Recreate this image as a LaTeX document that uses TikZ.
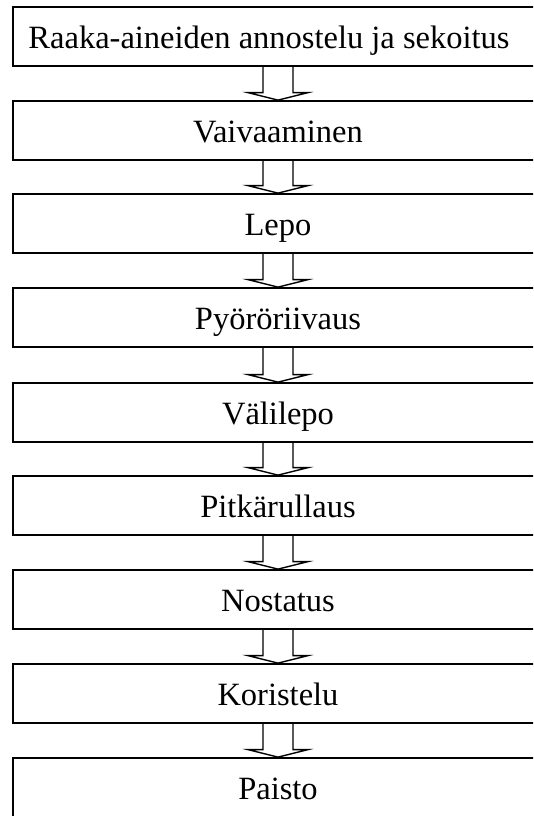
\documentclass[tikz,border=0pt]{standalone}
\usepackage{fontspec}
\setmainfont{Liberation Serif}
\usetikzlibrary{calc}
\begin{document}
\begin{tikzpicture}[x=1pt,y=-1pt,
  stepbox/.style={draw=black, line width=1.8pt, minimum width=560pt, minimum height=59pt,
    inner sep=0pt, text height=24pt, text depth=0pt,
    font=\fontsize{32.5}{39}\selectfont},
  flowarr/.style={draw=black, line width=1.4pt, line join=miter}]
\useasboundingbox (0,0) rectangle (533,816);
\begin{scope}
\clip (0,0) rectangle (533,816);
\def\flowarrow#1#2{%
  \draw[flowarr] ($(#1.south)+(-30,0)$) -- ($(#2.north)+(-30,-7.5)$) -- ($(#2.north)+(-45,-7.5)$)
     -- ($(#2.north)+(-15,0)$) -- ($(#2.north)+(15,-7.5)$) -- ($(#2.north)+(0,-7.5)$) -- ($(#1.south)+(0,0)$);}
\node[stepbox] (s1) at (293,36.5) {\hspace*{-30pt}Raaka-aineiden annostelu ja sekoitus\hspace*{18pt}};
\node[stepbox] (s2) at (293,130.5) {\hspace*{-30pt}Vaivaaminen};
\node[stepbox] (s3) at (293,223.5) {\hspace*{-30pt}Lepo};
\node[stepbox] (s4) at (293,317.5) {\hspace*{-30pt}Pyöröriivaus};
\node[stepbox] (s5) at (293,412.5) {\hspace*{-30pt}Välilepo};
\node[stepbox] (s6) at (293,505.5) {\hspace*{-30pt}Pitkärullaus};
\node[stepbox] (s7) at (293,599.5) {\hspace*{-30pt}Nostatus};
\node[stepbox] (s8) at (293,693.5) {\hspace*{-30pt}Koristelu};
\node[stepbox] (s9) at (293,787.5) {\hspace*{-30pt}Paisto};
\flowarrow{s1}{s2}
\flowarrow{s2}{s3}
\flowarrow{s3}{s4}
\flowarrow{s4}{s5}
\flowarrow{s5}{s6}
\flowarrow{s6}{s7}
\flowarrow{s7}{s8}
\flowarrow{s8}{s9}
\end{scope}
\end{tikzpicture}
\end{document}
